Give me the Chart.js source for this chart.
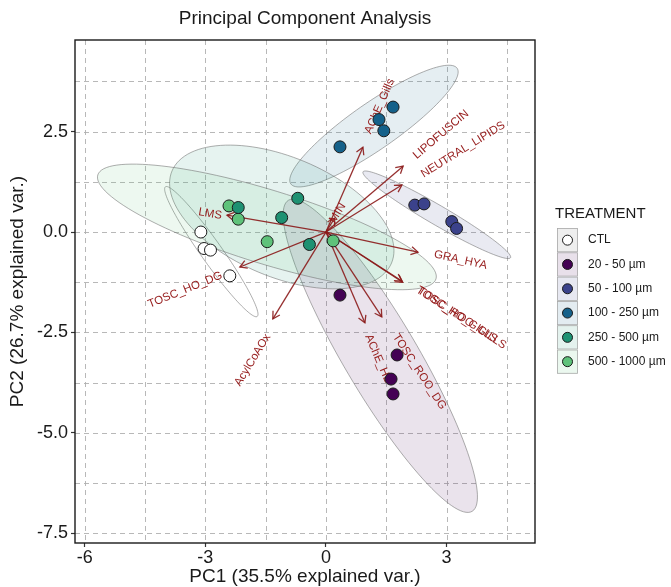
<!DOCTYPE html>
<html>
<head>
<meta charset="utf-8">
<script src="https://cdn.jsdelivr.net/npm/chart.js@4.4.0/dist/chart.umd.min.js"></script>
<style>
  html, body { margin: 0; padding: 0; background: #fff; }
  canvas { display: block; }
</style>
</head>
<body>
<canvas id="pcaChart" width="671" height="587"></canvas>
<script>
// ---- data ----
const groupNames = ['CTL', '20 - 50 µm', '50 - 100 µm', '100 - 250 µm', '250 - 500 µm', '500 - 1000 µm'];
const groupColors = ['#ffffff', '#440154', '#3b428b', '#15618a', '#1e9172', '#5ec27a'];

// PCA scores (PC1, PC2) per treatment
const ctlPC1 = [-3.11, -3.03, -2.87, -2.39];
const ctlPC2 = [0.00, -0.41, -0.45, -1.09];
const t20PC1 = [0.35, 1.77, 1.62, 1.67];
const t20PC2 = [-1.57, -3.06, -3.66, -4.03];
const t50PC1 = [2.21, 2.44, 3.13, 3.25];
const t50PC2 = [0.67, 0.70, 0.26, 0.09];
const t100PC1 = [1.67, 1.32, 1.44, 0.35];
const t100PC2 = [3.11, 2.80, 2.52, 2.12];
const t250PC1 = [-2.18, -0.70, -1.10, -0.41];
const t250PC2 = [0.61, 0.84, 0.36, -0.31];
const t500PC1 = [-2.41, -2.18, -1.46, 0.18];
const t500PC2 = [0.65, 0.32, -0.24, -0.22];

const scoresPC1 = [ctlPC1, t20PC1, t50PC1, t100PC1, t250PC1, t500PC1];
const scoresPC2 = [ctlPC2, t20PC2, t50PC2, t100PC2, t250PC2, t500PC2];

// variable loadings (arrow tips) and label anchors, in PC units
const varNames  = ['AChE_Gills', 'LIPOFUSCIN', 'NEUTRAL_LIPIDS', 'GRA_HYA', 'TOSC_HO_GILLS', 'TOSC_ROO_GILLS',
                   'AChE_HL', 'TOSC_ROO_DG', 'AcylCoAOx', 'TOSC_HO_DG', 'LMS', 'MIN'];
const loadPC1   = [0.92, 1.92, 1.89, 2.29, 1.89, 1.91, 0.97, 1.39, -1.32, -2.14, -2.46, 0.22];
const loadPC2   = [2.11, 1.64, 1.17, -0.50, -1.22, -1.25, -2.26, -2.11, -2.16, -0.87, 0.42, 0.35];
const labelPC1  = [1.045, 2.21, 2.39, 2.69, 2.27, 2.31, 1.045, 1.72, -1.44, -2.59, -2.59, 0.15];
const labelPC2  = [2.46, 1.87, 1.42, -0.55, -1.42, -1.44, -2.56, -2.56, -2.56, -1.07, 0.40, 0.25];

// axes
const xTicks = [-6, -3, 0, 3];
const xTickLabels = ['-6', '-3', '0', '3'];
const yTicks = [2.5, 0, -2.5, -5, -7.5];
const yTickLabels = ['2.5', '0.0', '-2.5', '-5.0', '-7.5'];
const xGrid = [-6, -4.5, -3, -1.5, 0, 1.5, 3, 4.5];
const yGrid = [3.75, 2.5, 1.25, 0, -1.25, -2.5, -3.75, -5, -6.25, -7.5];

const FONT = "'Liberation Sans', Arial, sans-serif";
const ELLIPSE_K = 3.6;

function hexA(hex, a) {
  const n = parseInt(hex.slice(1), 16);
  return `rgba(${n >> 16},${(n >> 8) & 255},${n & 255},${a})`;
}

// covariance ellipse outline of one group, in data units
function groupEllipse(xs, ys) {
  const n = xs.length;
  const mx = xs.reduce((a, b) => a + b, 0) / n;
  const my = ys.reduce((a, b) => a + b, 0) / n;
  let sxx = 0, syy = 0, sxy = 0;
  for (let i = 0; i < n; i++) {
    sxx += (xs[i] - mx) ** 2;
    syy += (ys[i] - my) ** 2;
    sxy += (xs[i] - mx) * (ys[i] - my);
  }
  sxx /= n - 1; syy /= n - 1; sxy /= n - 1;
  const tr = sxx + syy, det = sxx * syy - sxy * sxy;
  const d = Math.sqrt(Math.max(tr * tr / 4 - det, 0));
  const l1 = tr / 2 + d, l2 = tr / 2 - d;
  const th = Math.atan2(l1 - sxx, sxy);
  const a = ELLIPSE_K * Math.sqrt(l1), b = ELLIPSE_K * Math.sqrt(Math.max(l2, 0));
  const out = [];
  for (let i = 0; i <= 120; i++) {
    const t = i / 120 * Math.PI * 2;
    out.push([mx + a * Math.cos(t) * Math.cos(th) - b * Math.sin(t) * Math.sin(th),
              my + a * Math.cos(t) * Math.sin(th) + b * Math.sin(t) * Math.cos(th)]);
  }
  return out;
}

const biplotLayer = {
  id: 'biplotLayer',
  beforeDatasetsDraw(chart) {
    const { ctx, chartArea: ca, scales: { x, y } } = chart;
    ctx.save();
    // dashed grid
    ctx.strokeStyle = '#b0b0b0';
    ctx.lineWidth = 0.9;
    ctx.setLineDash([5, 4]);
    xGrid.forEach(v => {
      const px = Math.round(x.getPixelForValue(v)) + 0.5;
      ctx.beginPath(); ctx.moveTo(px, ca.top); ctx.lineTo(px, ca.bottom); ctx.stroke();
    });
    yGrid.forEach(v => {
      const py = Math.round(y.getPixelForValue(v)) + 0.5;
      ctx.beginPath(); ctx.moveTo(ca.left, py); ctx.lineTo(ca.right, py); ctx.stroke();
    });
    ctx.setLineDash([]);

    ctx.beginPath(); ctx.rect(ca.left, ca.top, ca.right - ca.left, ca.bottom - ca.top); ctx.clip();

    // ellipses
    scoresPC1.forEach((xs, g) => {
      const pts = groupEllipse(xs, scoresPC2[g]);
      ctx.beginPath();
      pts.forEach((p, i) => {
        const px = x.getPixelForValue(p[0]), py = y.getPixelForValue(p[1]);
        i ? ctx.lineTo(px, py) : ctx.moveTo(px, py);
      });
      ctx.closePath();
      ctx.fillStyle = g === 0 ? 'rgba(255,255,255,0.25)' : hexA(groupColors[g], 0.11);
      ctx.fill();
      ctx.strokeStyle = 'rgba(110,110,110,0.7)';
      ctx.lineWidth = 0.8;
      ctx.stroke();
    });

    // loading arrows
    const ox = x.getPixelForValue(0), oy = y.getPixelForValue(0);
    ctx.strokeStyle = 'rgba(139,26,26,0.9)';
    ctx.lineWidth = 1.3;
    varNames.forEach((name, i) => {
      const tx = x.getPixelForValue(loadPC1[i]), ty = y.getPixelForValue(loadPC2[i]);
      const ang = Math.atan2(ty - oy, tx - ox);
      ctx.beginPath(); ctx.moveTo(ox, oy); ctx.lineTo(tx, ty); ctx.stroke();
      const h = 8, spread = Math.PI / 6;
      ctx.beginPath();
      ctx.moveTo(tx - h * Math.cos(ang - spread), ty - h * Math.sin(ang - spread));
      ctx.lineTo(tx, ty);
      ctx.lineTo(tx - h * Math.cos(ang + spread), ty - h * Math.sin(ang + spread));
      ctx.stroke();
    });

    // variable labels
    ctx.fillStyle = '#961c1c';
    ctx.font = `11.5px ${FONT}`;
    ctx.textBaseline = 'middle';
    varNames.forEach((name, i) => {
      const px = x.getPixelForValue(labelPC1[i]), py = y.getPixelForValue(labelPC2[i]);
      ctx.save();
      ctx.translate(px, py);
      ctx.rotate(-Math.atan(loadPC2[i] / loadPC1[i]));
      ctx.textAlign = loadPC1[i] > 0 ? 'left' : 'right';
      ctx.fillText(name, 0, 0);
      ctx.restore();
    });
    ctx.restore();
  },
  afterDraw(chart) {
    const { ctx, chartArea: ca } = chart;
    ctx.save();
    // panel border
    ctx.strokeStyle = '#1a1a1a';
    ctx.lineWidth = 1.4;
    ctx.strokeRect(ca.left, ca.top, ca.right - ca.left, ca.bottom - ca.top);

    // titles
    const cx = (ca.left + ca.right) / 2;
    ctx.fillStyle = '#1a1a1a';
    ctx.textAlign = 'center';
    ctx.textBaseline = 'middle';
    ctx.font = `19px ${FONT}`;
    ctx.fillText('Principal Component Analysis', cx, 19);
    ctx.fillText('PC1 (35.5% explained var.)', cx, 577);
    ctx.save();
    ctx.translate(18, (ca.top + ca.bottom) / 2);
    ctx.rotate(-Math.PI / 2);
    ctx.fillText('PC2 (26.7% explained var.)', 0, 0);
    ctx.restore();

    // legend
    const lx = 557, ly = 228, kw = 21, kh = 24.3;
    ctx.textAlign = 'left';
    ctx.font = `15px ${FONT}`;
    ctx.fillText('TREATMENT', 555, 214);
    ctx.font = `12px ${FONT}`;
    groupNames.forEach((name, g) => {
      const top = ly + g * kh;
      ctx.fillStyle = '#ffffff';
      ctx.fillRect(lx, top, kw, kh);
      ctx.fillStyle = g === 0 ? 'rgba(200,200,200,0.3)' : hexA(groupColors[g], 0.12);
      ctx.fillRect(lx, top, kw, kh);
      ctx.strokeStyle = '#a8a8a8';
      ctx.lineWidth = 0.8;
      ctx.strokeRect(lx + 0.5, top + 0.5, kw - 1, kh - 1);
      ctx.beginPath();
      ctx.arc(lx + kw / 2, top + kh / 2, 5, 0, Math.PI * 2);
      ctx.fillStyle = groupColors[g];
      ctx.fill();
      ctx.strokeStyle = '#1a1a1a';
      ctx.lineWidth = 1;
      ctx.stroke();
      ctx.fillStyle = '#1a1a1a';
      ctx.fillText(name, 588, top + kh / 2);
    });
    ctx.restore();
  }
};

const datasets = groupNames.map((name, g) => ({
  label: name,
  data: scoresPC1[g].map((v, i) => ({ x: v, y: scoresPC2[g][i] })),
  pointRadius: 6,
  pointBackgroundColor: groupColors[g],
  pointBorderColor: '#1a1a1a',
  pointBorderWidth: 1,
  showLine: false
}));

new Chart(document.getElementById('pcaChart').getContext('2d'), {
  type: 'scatter',
  data: { datasets },
  options: {
    responsive: false,
    animation: false,
    layout: { padding: { top: 40, right: 136, left: 0, bottom: 0 } },
    plugins: { legend: { display: false }, tooltip: { enabled: false } },
    scales: {
      x: {
        type: 'linear', min: -6.24, max: 5.2,
        afterBuildTicks: s => { s.ticks = xTicks.map(v => ({ value: v })); },
        afterFit: s => { s.height = 44; },
        ticks: {
          callback: v => xTickLabels[xTicks.indexOf(v)],
          font: { family: FONT, size: 18 }, color: '#1a1a1a',
          padding: 0, maxRotation: 0, autoSkip: false
        },
        grid: { drawOnChartArea: false, drawTicks: true, tickLength: 4, tickColor: '#333', tickWidth: 1.2 },
        border: { display: false }
      },
      y: {
        type: 'linear', min: -7.74, max: 4.78,
        afterBuildTicks: s => { s.ticks = yTicks.map(v => ({ value: v })); },
        afterFit: s => { s.width = 75; },
        ticks: {
          callback: v => yTickLabels[yTicks.indexOf(v)],
          font: { family: FONT, size: 18 }, color: '#1a1a1a',
          padding: 3, autoSkip: false
        },
        grid: { drawOnChartArea: false, drawTicks: true, tickLength: 4, tickColor: '#333', tickWidth: 1.2 },
        border: { display: false }
      }
    }
  },
  plugins: [biplotLayer]
});
</script>
</body>
</html>
